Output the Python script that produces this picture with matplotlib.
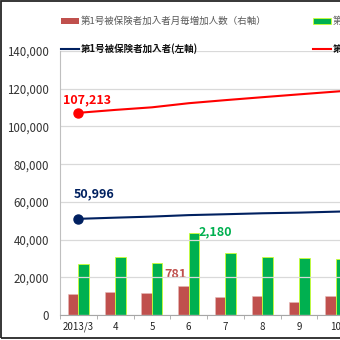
# -*- coding: UTF-8 -*-
import matplotlib
matplotlib.use('Agg')
import matplotlib.pyplot as plt
from matplotlib.lines import Line2D
from matplotlib.patches import Patch, Rectangle
import numpy as np

plt.rcParams['font.family'] = ['Noto Sans CJK JP', 'DejaVu Sans']

# データ（右端は画像外まで続く）
months = ['2013/3', '4', '5', '6', '7', '8', '9', '10', '11']
inc_1go = [549, 618, 575, 781, 470, 504, 345, 512, 520]          # 右軸
inc_2go = [1353, 1547, 1371, 2180, 1636, 1547, 1512, 1477, 1500]  # 右軸
total_1go = [50996, 51614, 52189, 52970, 53440, 53944, 54289, 54801, 55300]        # 左軸
total_2go = [107213, 108760, 110131, 112311, 113947, 115494, 117006, 118483, 120000]  # 左軸

RED_BAR = '#C0504D'
GREEN_BAR = '#00B050'
NAVY = '#002060'
RED = '#FF0000'

W, H = 340, 340
fig = plt.figure(figsize=(W / 100, H / 100), dpi=100)
fig.patch.set_facecolor('white')

# 軸は右側が画像の外まではみ出す
ax = fig.add_axes([60 / W, 25 / H, 331 / W, 264 / H])
ax2 = ax.twinx()

x = np.arange(len(months))
bw = 0.285

# 棒（右軸）
b1 = ax2.bar(x - bw / 2, inc_1go, bw, color=RED_BAR, edgecolor='#E6B9B8', linewidth=0.4, zorder=2)
b2 = ax2.bar(x + bw / 2, inc_2go, bw, color=GREEN_BAR, edgecolor='#CCFF33', linewidth=0.6, zorder=2)
ax2.set_ylim(0, 7000)
ax2.set_yticks([])
for s in ax2.spines.values():
    s.set_visible(False)

# 折れ線（左軸）
ax.set_zorder(ax2.get_zorder() + 1)
ax.patch.set_visible(False)
ax.plot(x, total_1go, color=NAVY, lw=1.5, zorder=3)
ax.plot(x[:1], total_1go[:1], 'o', color=NAVY, ms=6.5, zorder=4)
ax.plot(x, total_2go, color=RED, lw=1.5, zorder=3)
ax.plot(x[:1], total_2go[:1], 'o', color=RED, ms=6.5, zorder=4)

ax.set_ylim(0, 140000)
ax.set_xlim(-0.5, len(months) - 0.5)
ax.set_yticks(np.arange(0, 140001, 20000))
ax.set_yticklabels(['{:,}'.format(v) for v in range(0, 140001, 20000)],
                   fontsize=8.3, color='#333333')
ax.set_xticks(x)
ax.set_xticklabels(months, fontsize=7, color='#222222')
ax.set_xticks(np.arange(-0.5, len(months)), minor=True)
ax.tick_params(axis='x', which='major', length=0, pad=5)
ax.tick_params(axis='x', which='minor', length=3, color='#A6A6A6')
ax.tick_params(axis='y', length=0, pad=8)
ax.grid(axis='y', color='#D9D9D9', lw=0.9)
ax.set_axisbelow(True)
for k in ['top', 'right']:
    ax.spines[k].set_visible(False)
ax.spines['left'].set_color('#BFBFBF')
ax.spines['bottom'].set_color('#A6A6A6')

# データラベル
ax.annotate('{:,}'.format(total_2go[0]), (x[0], total_2go[0]), xytext=(9, 13),
            textcoords='offset pixels', ha='center', va='center',
            fontsize=9, fontweight='bold', color=RED)
ax.annotate('{:,}'.format(total_1go[0]), (x[0], total_1go[0]), xytext=(16, 25),
            textcoords='offset pixels', ha='center', va='center',
            fontsize=9, fontweight='bold', color=NAVY)
ax2.annotate('{:,}'.format(inc_1go[3]), (x[3] - bw / 2, inc_1go[3]), xytext=(-8, 11),
             textcoords='offset pixels', ha='center', va='center',
             fontsize=9, fontweight='bold', color=RED_BAR)
ax2.annotate('{:,}'.format(inc_2go[3]), (x[3] + bw / 2, inc_2go[3]), xytext=(21, 1),
             textcoords='offset pixels', ha='center', va='center',
             fontsize=9, fontweight='bold', color=GREEN_BAR)

# 凡例
handles = [
    Patch(facecolor=RED_BAR, edgecolor='none'),
    Line2D([], [], color=NAVY, lw=1.5),
    Patch(facecolor=GREEN_BAR, edgecolor='#CCFF33', linewidth=0.6),
    Line2D([], [], color=RED, lw=1.5),
]
labels = [
    '第1号被保険者加入者月毎増加人数（右軸）',
    '第1号被保険者加入者(左軸)',
    '第2号被保険者加入者月毎増加人数（右軸）',
    '第2号被保険者加入者(左軸)',
]
leg = fig.legend(handles, labels, ncol=2, loc='upper left',
                 bbox_to_anchor=(61 / W, 1 - 16.5 / H), frameon=False,
                 fontsize=6.8, handlelength=1.9, handleheight=0.55,
                 handletextpad=0.2, columnspacing=4.9, labelspacing=1.8,
                 borderpad=0, borderaxespad=0)
for t, c, wgt in zip(leg.get_texts(),
                     ['#595959', '#111111', '#595959', '#111111'],
                     ['normal', 'bold', 'normal', 'bold']):
    t.set_color(c)
    t.set_fontweight(wgt)

# 外枠
fig.patches.append(Rectangle((1 / W, 2 / H), 1.5, 337 / H, transform=fig.transFigure,
                             fill=False, edgecolor='#262626', lw=1.3))

fig.savefig('out.png', dpi=100)
